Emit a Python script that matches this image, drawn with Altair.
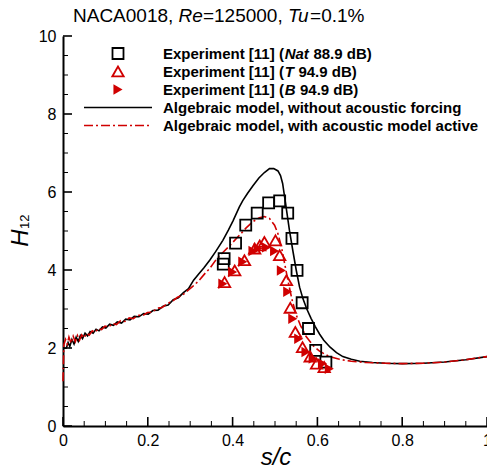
import altair as alt
import pandas as pd

# ---------------- data ----------------
# Algebraic model, without acoustic forcing (black solid)
black_x = [0.000, 0.008, 0.012, 0.016, 0.021, 0.026, 0.031, 0.036, 0.041, 0.046, 0.052, 0.058,
           0.064, 0.071, 0.078, 0.085, 0.093, 0.101, 0.110, 0.119, 0.128, 0.138, 0.148, 0.158,
           0.168, 0.179, 0.190, 0.201, 0.212, 0.224, 0.236, 0.248, 0.260, 0.272, 0.284, 0.296,
           0.308, 0.320, 0.332, 0.346, 0.360, 0.377, 0.390, 0.401, 0.416, 0.424, 0.435, 0.448,
           0.462, 0.475, 0.487, 0.497, 0.507, 0.513, 0.518, 0.525, 0.534, 0.542, 0.550, 0.558,
           0.566, 0.575, 0.585, 0.595, 0.605, 0.615, 0.630, 0.645, 0.660, 0.680, 0.700, 0.730,
           0.760, 0.800, 0.850, 0.900, 0.950, 1.000]
black_y = [1.99, 2.00, 2.14, 2.04, 2.22, 2.10, 2.28, 2.17, 2.32, 2.24, 2.38, 2.31,
           2.42, 2.38, 2.48, 2.44, 2.54, 2.51, 2.61, 2.58, 2.67, 2.64, 2.74, 2.72,
           2.81, 2.80, 2.88, 2.87, 2.96, 2.97, 3.07, 3.10, 3.24, 3.29, 3.42, 3.52,
           3.74, 3.90, 4.05, 4.25, 4.47, 4.76, 5.02, 5.26, 5.62, 5.78, 5.96, 6.16,
           6.36, 6.50, 6.60, 6.60, 6.54, 6.42, 6.22, 5.70, 5.02, 4.50, 4.00, 3.56,
           3.26, 3.00, 2.76, 2.55, 2.36, 2.20, 2.02, 1.88, 1.78, 1.71, 1.66, 1.63,
           1.61, 1.60, 1.61, 1.64, 1.70, 1.78]

# Algebraic model, with acoustic model active (red dash-dot)
red_x = [0.000, 0.002, 0.006, 0.010, 0.014, 0.019, 0.024, 0.029, 0.034, 0.039, 0.044, 0.050,
         0.056, 0.062, 0.069, 0.076, 0.083, 0.091, 0.099, 0.108, 0.117, 0.126, 0.136, 0.146,
         0.156, 0.166, 0.177, 0.188, 0.199, 0.210, 0.222, 0.234, 0.246, 0.258, 0.270, 0.282,
         0.294, 0.306, 0.320, 0.334, 0.346, 0.362, 0.377, 0.393, 0.410, 0.432, 0.448, 0.463,
         0.475, 0.487, 0.499, 0.507, 0.515, 0.523, 0.532, 0.541, 0.550, 0.560, 0.573, 0.590,
         0.605, 0.628, 0.652, 0.680, 0.714, 0.760, 0.800, 0.850, 0.900, 0.950, 1.000]
red_y = [1.15, 2.08, 2.22, 2.10, 2.28, 2.12, 2.30, 2.16, 2.32, 2.20, 2.34, 2.26,
         2.38, 2.33, 2.44, 2.40, 2.50, 2.47, 2.56, 2.54, 2.63, 2.60, 2.70, 2.68,
         2.77, 2.75, 2.84, 2.83, 2.91, 2.92, 3.02, 3.04, 3.14, 3.20, 3.30, 3.36,
         3.47, 3.58, 3.72, 3.90, 4.04, 4.28, 4.45, 4.62, 4.82, 5.08, 5.24, 5.34,
         5.37, 5.32, 5.15, 4.93, 4.60, 4.15, 3.65, 3.20, 2.85, 2.58, 2.30, 2.06,
         1.92, 1.78, 1.71, 1.66, 1.63, 1.61, 1.60, 1.61, 1.64, 1.70, 1.78]

# Experiment [11] (Nat 88.9 dB) - open squares
nat_x = [0.378, 0.380, 0.407, 0.431, 0.458, 0.485, 0.511, 0.530, 0.540, 0.552, 0.564, 0.579, 0.596, 0.620]
nat_y = [4.15, 4.29, 4.69, 5.15, 5.46, 5.72, 5.77, 5.46, 4.81, 3.99, 3.16, 2.50, 1.94, 1.64]

# Experiment [11] (T 94.9 dB) - open triangles
t_x = [0.381, 0.405, 0.428, 0.452, 0.464, 0.475, 0.501, 0.511, 0.527, 0.536, 0.548, 0.565, 0.583, 0.598, 0.616]
t_y = [3.69, 3.99, 4.25, 4.55, 4.63, 4.72, 4.76, 4.38, 3.74, 3.03, 2.41, 2.02, 1.78, 1.60, 1.51]

# Experiment [11] (B 94.9 dB) - filled right triangles
b_x = [0.377, 0.400, 0.424, 0.448, 0.460, 0.480, 0.499, 0.515, 0.530, 0.542, 0.556, 0.573, 0.590, 0.612, 0.628]
b_y = [3.65, 3.95, 4.21, 4.49, 4.55, 4.58, 4.49, 3.99, 3.44, 2.75, 2.24, 1.90, 1.73, 1.60, 1.47]

x_major = [0, 0.2, 0.4, 0.6, 0.8, 1.0]
x_minor = [0.05, 0.1, 0.15, 0.25, 0.3, 0.35, 0.45, 0.5, 0.55, 0.65, 0.7, 0.75, 0.85, 0.9, 0.95]
y_major = [0, 2, 4, 6, 8, 10]
y_minor = [0.5, 1, 1.5, 2.5, 3, 3.5, 4.5, 5, 5.5, 6.5, 7, 7.5, 8.5, 9, 9.5]

# ---------------- styling ----------------
W, H = 424, 390
RED = "#d00000"
FONT = "Liberation Sans"

xs = alt.Scale(domain=[0, 1], nice=False, zero=False)
ys = alt.Scale(domain=[0, 10], nice=False, zero=False)

df_black = pd.DataFrame({"x": black_x, "y": black_y, "i": range(len(black_x))})
df_red = pd.DataFrame({"x": red_x, "y": red_y, "i": range(len(red_x))})
df_nat = pd.DataFrame({"x": nat_x, "y": nat_y})
df_t = pd.DataFrame({"x": t_x, "y": t_y})
df_b = pd.DataFrame({"x": b_x, "y": b_y})

X = alt.X("x:Q", scale=xs, title=None,
          axis=alt.Axis(values=x_major, format="~g", labelFlush=False, labelOverlap=False))
Y = alt.Y("y:Q", scale=ys, title=None,
          axis=alt.Axis(values=y_major, format="d", labelFlush=False, labelOverlap=False))

black_line = alt.Chart(df_black).mark_line(color="black", strokeWidth=1.6).encode(
    x=X, y=Y, order="i:Q")
red_line = alt.Chart(df_red).mark_line(color=RED, strokeWidth=1.6, strokeDash=[9, 3, 2, 3]).encode(
    x="x:Q", y="y:Q", order="i:Q")

nat_pts = alt.Chart(df_nat).mark_point(shape="square", size=121, filled=False, color="black",
                                        strokeWidth=1.8, opacity=1).encode(x="x:Q", y="y:Q")
t_pts = alt.Chart(df_t).mark_point(shape="triangle-up", size=130, filled=False, color=RED,
                                    strokeWidth=1.8, opacity=1).encode(x="x:Q", y="y:Q")
b_pts = alt.Chart(df_b).mark_point(shape="triangle-right", size=110, filled=True, color=RED,
                                    opacity=1).encode(x="x:Q", y="y:Q")

# inward ticks
xt_major = alt.Chart(pd.DataFrame({"x": x_major})).mark_rule(color="black", strokeWidth=1.6).encode(
    x="x:Q", y=alt.value(H), y2=alt.value(H - 9))
xt_minor = alt.Chart(pd.DataFrame({"x": x_minor})).mark_rule(color="black", strokeWidth=1.0).encode(
    x="x:Q", y=alt.value(H), y2=alt.value(H - 5))
yt_major = alt.Chart(pd.DataFrame({"y": y_major})).mark_rule(color="black", strokeWidth=1.6).encode(
    y="y:Q", x=alt.value(0), x2=alt.value(9))
yt_minor = alt.Chart(pd.DataFrame({"y": y_minor})).mark_rule(color="black", strokeWidth=1.0).encode(
    y="y:Q", x=alt.value(0), x2=alt.value(5))

one = pd.DataFrame({"a": [0]})


def txt(s, x, y, size=15, weight="normal", style="normal", color="black",
        align="left", baseline="alphabetic", angle=0):
    return alt.Chart(one).mark_text(
        text=s, font=FONT, fontSize=size, fontWeight=weight, fontStyle=style,
        color=color, align=align, baseline=baseline, angle=angle
    ).encode(x=alt.value(x), y=alt.value(y))


# title with italic parts
title_parts = [
    txt("NACA0018,", 10, -14, size=19),
    txt("Re", 115.6, -14, size=19, style="italic"),
    txt("=125000,", 139.9, -14, size=19),
    txt("Tu", 224.9, -14, size=19, style="italic"),
    txt("=0.1%", 247.1, -14, size=19),
]

# axis titles
axis_titles = [
    txt("s/c", 213, 429, size=24, style="italic", align="center"),
    txt("H", -42, 202, size=24, style="italic", align="center", baseline="middle", angle=270),
    txt("12", -38, 193, size=13, align="left", baseline="middle", angle=270),
]

# legend
rows = [17.5, 35.5, 53.5, 71.5, 89.5]
tx0 = 100
tx1 = tx0 + 121.7          # start of the italic symbol
sp = 4.5                   # word space
legend = [
    alt.Chart(one).mark_point(shape="square", size=121, filled=False, color="black",
                              strokeWidth=1.8, opacity=1).encode(x=alt.value(55), y=alt.value(rows[0])),
    alt.Chart(one).mark_point(shape="triangle-up", size=130, filled=False, color=RED,
                              strokeWidth=1.8, opacity=1).encode(x=alt.value(55), y=alt.value(rows[1])),
    alt.Chart(one).mark_point(shape="triangle-right", size=110, filled=True, color=RED,
                              opacity=1).encode(x=alt.value(55), y=alt.value(rows[2])),
    alt.Chart(one).mark_rule(color="black", strokeWidth=1.6).encode(
        x=alt.value(21), x2=alt.value(89), y=alt.value(rows[3])),
    alt.Chart(one).mark_rule(color=RED, strokeWidth=1.6, strokeDash=[9, 3, 2, 3]).encode(
        x=alt.value(21), x2=alt.value(89), y=alt.value(rows[4])),
    txt("Experiment [11] (", tx0, rows[0], weight="bold", baseline="middle"),
    txt("Nat", tx1, rows[0], weight="bold", style="italic", baseline="middle"),
    txt("88.9 dB)", tx1 + 24.2 + sp, rows[0], weight="bold", baseline="middle"),
    txt("Experiment [11] (", tx0, rows[1], weight="bold", baseline="middle"),
    txt("T", tx1, rows[1], weight="bold", style="italic", baseline="middle"),
    txt("94.9 dB)", tx1 + 9.2 + sp, rows[1], weight="bold", baseline="middle"),
    txt("Experiment [11] (", tx0, rows[2], weight="bold", baseline="middle"),
    txt("B", tx1, rows[2], weight="bold", style="italic", baseline="middle"),
    txt("94.9 dB)", tx1 + 10.8 + sp, rows[2], weight="bold", baseline="middle"),
    txt("Algebraic model, without acoustic forcing", tx0, rows[3], weight="bold", baseline="middle"),
    txt("Algebraic model, with acoustic model active", tx0, rows[4], weight="bold", baseline="middle"),
]

chart = alt.layer(
    black_line, red_line, nat_pts, t_pts, b_pts,
    xt_major, xt_minor, yt_major, yt_minor,
    *title_parts, *axis_titles, *legend
).properties(
    width=W, height=H,
    autosize=alt.AutoSizeParams(type="none"),
    padding={"left": 63, "top": 36, "right": 0, "bottom": 46},
).configure_view(stroke=None).configure_axis(
    domainColor="black", domainWidth=2, ticks=False, grid=False,
    labelFont=FONT, labelFontSize=16, labelColor="black"
).configure_axisX(labelPadding=6).configure_axisY(labelPadding=7)

chart.save("out.html", embed_options={"renderer": "svg", "actions": False})
